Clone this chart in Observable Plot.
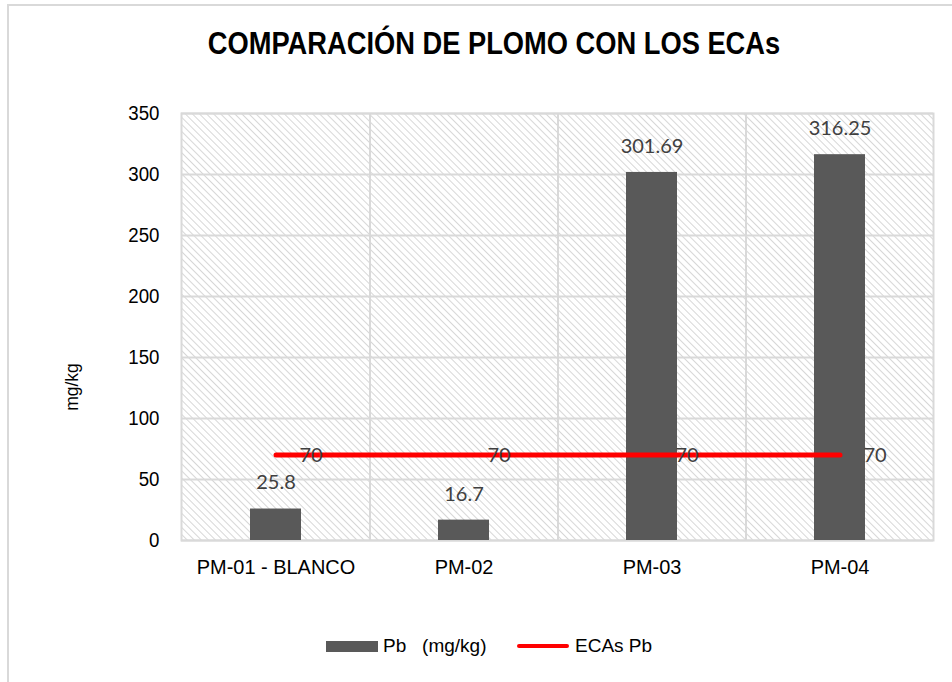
<!DOCTYPE html>
<html><head><meta charset="utf-8">
<script src="https://cdn.jsdelivr.net/npm/d3@7"></script>
<script src="https://cdn.jsdelivr.net/npm/@observablehq/plot@0.6"></script>
<style>
body{margin:0;background:#fff;}
#wrap{position:relative;width:952px;height:682px;overflow:hidden;font-family:'Liberation Sans',Arial,sans-serif;color:#000;}
#border{position:absolute;left:7px;top:4px;width:980px;height:720px;border:2px solid #d9d9d9;box-sizing:border-box;}
#title{position:absolute;left:0;width:988px;top:26px;text-align:center;font-weight:bold;font-size:31px;line-height:36px;transform:scaleX(0.88);transform-origin:494px 0;}
#ylabel{position:absolute;left:72px;top:387px;transform:translate(-50%,-50%) rotate(-90deg) scaleX(0.92);font-size:19px;white-space:nowrap;}
#chart{position:absolute;left:0;top:0;}
.leg{position:absolute;font-size:19px;line-height:22px;white-space:nowrap;}
</style></head>
<body>
<div id="wrap">
  <div id="border"></div>
  <div id="chart"></div>
  <div id="title">COMPARACIÓN DE PLOMO CON LOS ECAs</div>
  <div id="ylabel">mg/kg</div>
  <div id="legend"></div>
</div>
<script>
const categories = ["PM-01 - BLANCO", "PM-02", "PM-03", "PM-04"];
const pbValues = [25.8, 16.7, 301.69, 316.25];
const ecaValues = [70, 70, 70, 70];
const yTicks = [0, 50, 100, 150, 200, 250, 300, 350];
const seriesNames = ["Pb   (mg/kg)", "ECAs Pb"];

const pbData = categories.map((c, i) => ({cat: c, value: pbValues[i]}));
const ecaData = categories.map((c, i) => ({cat: c, value: ecaValues[i]}));

const W = 952, H = 682, mL = 181, mR = 19, mT = 113, mB = 142;
const step = (W - mL - mR) / categories.length;
const labelFont = "Lato, 'Open Sans', sans-serif";

const plot = Plot.plot({
  width: W, height: H,
  marginLeft: mL, marginRight: mR, marginTop: mT, marginBottom: mB,
  style: {fontFamily: "'Liberation Sans',Arial,sans-serif", fontSize: "21px", color: "#000", background: "transparent"},
  x: {domain: categories, paddingInner: 0.73, paddingOuter: 0.365, label: null, tickSize: 0, tickPadding: 19},
  y: {domain: [0, 350], ticks: yTicks, label: null, tickSize: 0, tickPadding: 22},
  marks: [
    Plot.frame({fill: "url(#hatch)", stroke: "none"}),
    Plot.ruleY(yTicks, {stroke: "#d9d9d9", strokeWidth: 2}),
    Plot.ruleX(categories.slice(1), {dx: -step / 2, stroke: "#d9d9d9", strokeWidth: 2}),
    Plot.frame({stroke: "#d9d9d9", strokeWidth: 2}),
    Plot.barY(pbData, {x: "cat", y: "value", fill: "#595959"}),
    Plot.line(ecaData, {x: "cat", y: "value", stroke: "#ff0000", strokeWidth: 5, strokeLinecap: "round"}),
    Plot.text(pbData, {x: "cat", y: "value", text: d => String(d.value), dy: -26, fill: "#404040", fontSize: 20, fontFamily: labelFont}),
    Plot.text(ecaData, {x: "cat", y: "value", text: d => String(d.value), dx: 35, fill: "#404040", fontSize: 20, fontFamily: labelFont})
  ]
});

d3.select(plot).insert("defs", ":first-child").html(
  `<pattern id="hatch" patternUnits="userSpaceOnUse" width="5" height="5" patternTransform="rotate(-45)">
     <rect width="5" height="5" fill="#ffffff"/>
     <line x1="0" y1="0" x2="0" y2="5" stroke="#d0d0d0" stroke-width="1.7"/>
   </pattern>`
);
// narrow the axis tick labels to mimic a condensed font (scale about each label's anchor)
function narrow(sel, k) {
  d3.select(plot).selectAll(sel).each(function() {
    const t = this.getAttribute("transform") || "";
    this.setAttribute("transform", (t + ` scale(${k},1)`).trim());
  });
}
narrow('[aria-label^="y-axis"] text', 0.89);
narrow('[aria-label^="x-axis"] text', 0.95);
document.getElementById("chart").appendChild(plot);

// Legend
const legend = document.getElementById("legend");
legend.innerHTML = `
  <div style="position:absolute;left:326px;top:641px;width:52px;height:11px;background:#595959"></div>
  <div class="leg" style="left:383px;top:635px;white-space:pre">${seriesNames[0]}</div>
  <div style="position:absolute;left:517px;top:644px;width:52px;height:4px;background:#ff0000;border-radius:2px"></div>
  <div class="leg" style="left:575px;top:635px">${seriesNames[1]}</div>`;
</script>
</body></html>
